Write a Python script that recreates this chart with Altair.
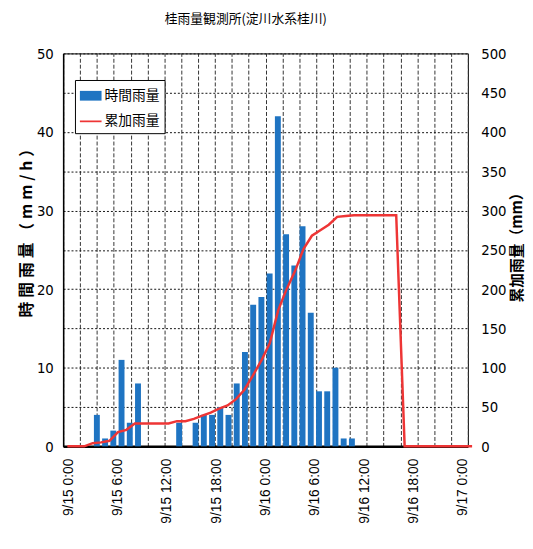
import altair as alt
import pandas as pd

# hourly rainfall (mm/h); bar for hour index h is drawn centred in [h, h+1]
hour_index = list(range(48))
hourly_rain = [0, 0, 0, 4, 1, 2, 11, 3, 8, 0,
               0, 0, 0, 3, 0, 3, 4, 4, 5, 4,
               8, 12, 18, 19, 22, 42, 27, 23, 28, 17,
               7, 7, 10, 1, 1, 0, 0, 0, 0, 0,
               0, 0, 0, 0, 0, 0, 0, 0]

# cumulative rainfall (mm)
cum_hour_index = list(range(49))
cum_rain = [0, 0, 0, 4, 5, 7, 18, 21, 29, 29,
            29, 29, 29, 32, 32, 35, 39, 43, 48, 52,
            60, 72, 90, 109, 131, 173, 200, 223, 251, 268,
            275, 282, 292, 293, 294, 294, 294, 294, 294, 294,
            0, 0, 0, 0, 0, 0, 0, 0, 0]

tick_hours = [0, 6, 12, 18, 24, 30, 36, 42, 48]
tick_labels = ["9/15 0:00", "9/15 6:00", "9/15 12:00", "9/15 18:00",
               "9/16 0:00", "9/16 6:00", "9/16 12:00", "9/16 18:00", "9/17 0:00"]
grid_hours = list(range(0, 49, 2))
left_ticks = list(range(0, 51, 5))
right_ticks = list(range(0, 501, 50))
legend_names = ["時間雨量", "累加雨量"]
sp = "\u2005"
left_title = sp.join(list("時間雨量（mm/h）"))
right_title = "累加雨量（mm）"

bar_color = "#1f74c2"
line_color = "#ee3535"
num_font = "Liberation Sans Narrow, DejaVu Sans Condensed, sans-serif"
jp_font = "Noto Sans CJK JP"

bars_df = pd.DataFrame({"hour": hour_index, "rain": hourly_rain})
line_df = pd.DataFrame({"hour": cum_hour_index, "cum": cum_rain})
legend_df = pd.DataFrame({"series": legend_names})

label_expr = "[" + ",".join("'" + t + "'" for t in tick_labels) + "][round(datum.value / 6)]"

xscale = alt.Scale(domain=[0, 48], nice=False, zero=False)

bars = alt.Chart(bars_df).transform_calculate(
    xpos="datum.hour + 0.5"
).mark_bar(size=6, color=bar_color).encode(
    x=alt.X("xpos:Q", scale=xscale,
            axis=alt.Axis(values=tick_hours, labelExpr=label_expr, title=None,
                          grid=False, ticks=False, domain=True, domainColor="#000",
                          domainWidth=2.5, labelAngle=270, labelFont="Liberation Sans",
                          labelFontSize=14, labelColor="#000", labelPadding=12,
                          labelOverlap=False, labelBound=False, labelFlush=False)),
    y=alt.Y("rain:Q", scale=alt.Scale(domain=[0, 50], nice=False),
            axis=alt.Axis(orient="left", values=left_ticks,
                          labelExpr="datum.value % 10 == 0 ? datum.label : ''",
                          grid=True, gridDash=[2, 2], gridColor="#111", gridWidth=1,
                          ticks=False, domainColor="#000", domainWidth=1.5,
                          labelFont=num_font, labelFontSize=15, labelColor="#000",
                          labelPadding=10,
                          title=left_title, titleFont=jp_font, titleFontSize=16,
                          titleFontWeight="bold", titleColor="#000",
                          titleAngle=270, titleX=-37, titleY=178,
                          titleAlign="center", titleBaseline="middle")),
)

line = alt.Chart(line_df).transform_calculate(
    xpos="datum.hour + 0.5"
).mark_line(color=line_color, strokeWidth=2.5, clip=False).encode(
    x=alt.X("xpos:Q", scale=xscale,
            axis=alt.Axis(orient="top", values=grid_hours, labels=False, ticks=False,
                          domain=False, grid=True, gridDash=[4, 2], gridColor="#333",
                          gridWidth=1, title=None)),
    y=alt.Y("cum:Q", scale=alt.Scale(domain=[0, 500], nice=False),
            axis=alt.Axis(orient="right", values=right_ticks, grid=False, ticks=False,
                          domain=False, labelFont=num_font, labelFontSize=15,
                          labelColor="#000", labelPadding=13,
                          title=right_title, titleFont=jp_font, titleFontSize=15,
                          titleFontWeight="bold", titleColor="#000",
                          titleAngle=270, titleX=49, titleY=193,
                          titleAlign="center", titleBaseline="middle")),
)

rect_path = "M-1,-0.45H1V0.45H-1Z"
line_path = "M-1,-0.08H1V0.08H-1Z"
leg = alt.Legend(orient="none", legendX=12, legendY=27, title=None,
                 fillColor="#fff", strokeColor="#000", padding=5, rowPadding=8,
                 symbolSize=484, symbolStrokeWidth=0, symbolOpacity=1,
                 labelFont=jp_font, labelFontSize=14, labelColor="#000",
                 labelOffset=3)

legend_layer = alt.Chart(legend_df).mark_point(filled=True, opacity=0).encode(
    color=alt.Color("series:N",
                    scale=alt.Scale(domain=legend_names, range=[bar_color, line_color]),
                    legend=leg),
    shape=alt.Shape("series:N",
                    scale=alt.Scale(domain=legend_names, range=[rect_path, line_path]),
                    legend=leg),
)

chart = alt.layer(bars, line, legend_layer).resolve_scale(
    x="independent", y="independent"
).properties(
    width=411, height=399,
    padding={"left": 56, "top": 42, "right": 58, "bottom": 90},
    autosize=alt.AutoSizeParams(type="none"),
    title=alt.TitleParams("桂雨量観測所(淀川水系桂川)", font=jp_font, fontSize=13,
                          fontWeight="normal", color="#000", anchor="middle",
                          frame="group", dx=-20, offset=21),
    background="#ffffff",
).configure_view(stroke="#000", strokeWidth=1)

chart.save("out.html", embed_options={"renderer": "svg", "actions": False})
